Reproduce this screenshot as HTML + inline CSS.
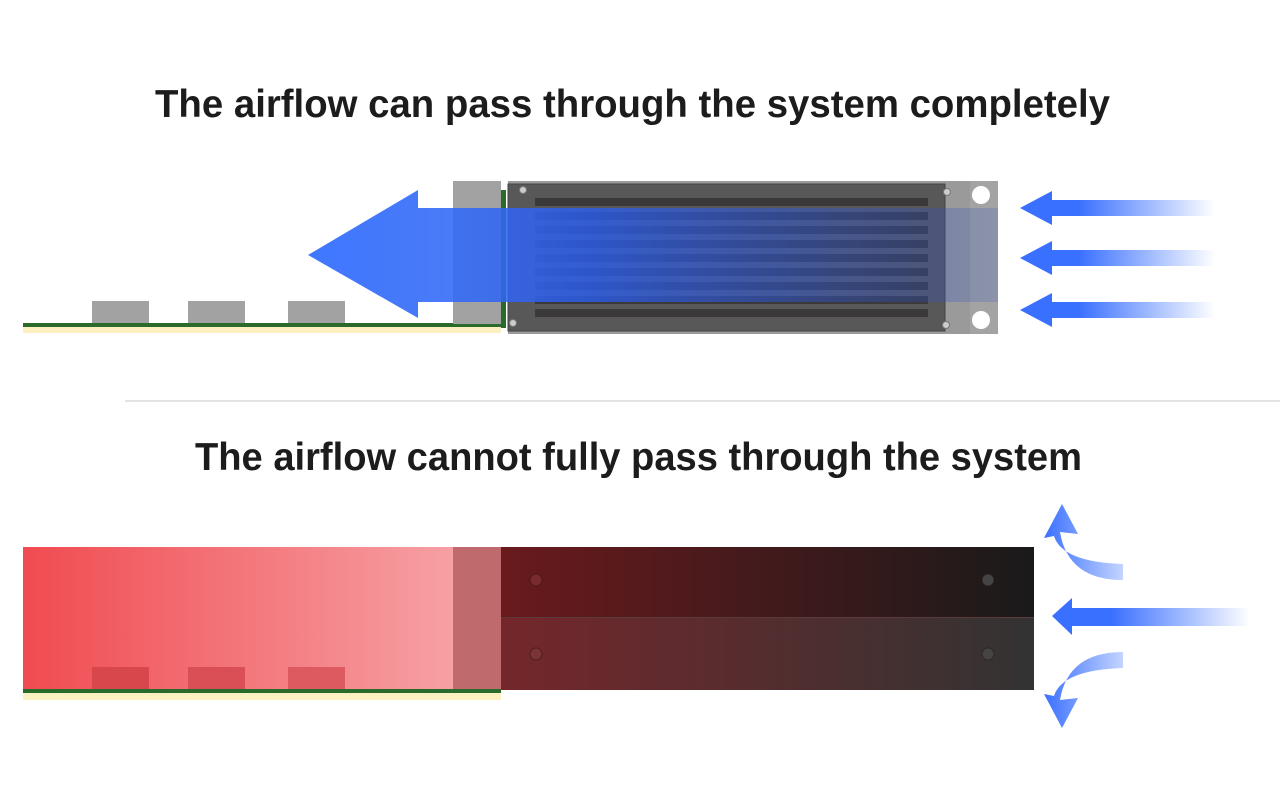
<!DOCTYPE html>
<html><head><meta charset="utf-8"><style>html,body{margin:0;padding:0;background:#fff}svg{display:block}</style></head>
<body>
<svg width="1280" height="801" viewBox="0 0 1280 801" xmlns="http://www.w3.org/2000/svg">
<defs>
<linearGradient id="fadeR" x1="0" x2="1" y1="0" y2="0"><stop offset="0" stop-color="#3a70ff"/><stop offset="0.3" stop-color="#3a70ff"/><stop offset="1" stop-color="#3a70ff" stop-opacity="0"/></linearGradient>
<linearGradient id="bigA" x1="0" x2="1"><stop offset="0" stop-color="#3f78ff"/><stop offset="0.4" stop-color="#2a5ef0" stop-opacity="0.8"/><stop offset="1" stop-color="#3050c0" stop-opacity="0.2"/></linearGradient>
<linearGradient id="redG" x1="0" x2="1"><stop offset="0" stop-color="#f04b50"/><stop offset="1" stop-color="#f6a0a4"/></linearGradient>
<linearGradient id="modT" x1="0" x2="1"><stop offset="0" stop-color="#6a1a1d"/><stop offset="1" stop-color="#1a1a1a"/></linearGradient>
<linearGradient id="modB" x1="0" x2="1"><stop offset="0" stop-color="#74272b"/><stop offset="1" stop-color="#333"/></linearGradient>
<linearGradient id="cu" x1="0" x2="1"><stop offset="0" stop-color="#3a70ff"/><stop offset="1" stop-color="#3a70ff" stop-opacity="0.3"/></linearGradient>
</defs>
<text x="155" y="117" font-family="Liberation Sans, sans-serif" font-weight="bold" font-size="39" fill="#1c1c1c" textLength="955" lengthAdjust="spacingAndGlyphs">The airflow can pass through the system completely</text>
<text x="195" y="470" font-family="Liberation Sans, sans-serif" font-weight="bold" font-size="39" fill="#1c1c1c" textLength="887" lengthAdjust="spacingAndGlyphs">The airflow cannot fully pass through the system</text>
<rect x="125" y="400" width="1155" height="2" fill="#e3e3e3"/>

<!-- TOP -->
<rect x="23" y="327" width="478" height="6" fill="#fdf0c0"/>
<rect x="23" y="323" width="478" height="4" fill="#2a6a2a"/>
<rect x="92" y="301" width="57" height="22" fill="#a1a2a1"/>
<rect x="188" y="301" width="57" height="22" fill="#a1a2a1"/>
<rect x="288" y="301" width="57" height="22" fill="#a1a2a1"/>
<rect x="453" y="181" width="48" height="143" fill="#a1a2a1"/>
<rect x="501" y="190" width="5" height="138" fill="#2a6a2a"/>
<rect x="940" y="181" width="58" height="153" fill="#a3a3a3"/>
<rect x="508" y="181" width="462" height="153" fill="#9a9a9a"/>
<rect x="508" y="184" width="437" height="147" fill="#595858" stroke="#444" stroke-width="1"/>
<g fill="#3b3939">
<rect x="535" y="198" width="393" height="8"/><rect x="535" y="212" width="393" height="8"/><rect x="535" y="226" width="393" height="8"/><rect x="535" y="240" width="393" height="8"/><rect x="535" y="254" width="393" height="8"/><rect x="535" y="268" width="393" height="8"/><rect x="535" y="282" width="393" height="8"/><rect x="535" y="296" width="393" height="8"/><rect x="535" y="309" width="393" height="8"/>
</g>
<g fill="#ccc" stroke="#777"><circle cx="523" cy="190" r="3.5"/><circle cx="513" cy="323" r="3.5"/><circle cx="947" cy="192" r="3.5"/><circle cx="946" cy="325" r="3.5"/></g>
<circle cx="981" cy="195" r="9" fill="#fff"/><circle cx="981" cy="320" r="9" fill="#fff"/>
<path d="M308 255 L418 190 L418 208 L998 208 L998 302 L418 302 L418 318 Z" fill="url(#bigA)"/>
<g fill="url(#fadeR)">
<path d="M1020 208 L1052 191 L1052 200 L1215 200 L1215 216 L1052 216 L1052 225 Z"/>
<path d="M1020 258 L1052 241 L1052 250 L1215 250 L1215 266 L1052 266 L1052 275 Z"/>
<path d="M1020 310 L1052 293 L1052 302 L1215 302 L1215 318 L1052 318 L1052 327 Z"/>
</g>

<!-- BOTTOM -->
<rect x="23" y="693" width="478" height="7" fill="#fdf0c0"/>
<rect x="23" y="689" width="478" height="4" fill="#2a6a2a"/>
<rect x="23" y="547" width="430" height="142" fill="url(#redG)"/>
<rect x="92" y="667" width="57" height="22" fill="#d8474c"/>
<rect x="188" y="667" width="57" height="22" fill="#da4f55"/>
<rect x="288" y="667" width="57" height="22" fill="#dc5a60"/>
<rect x="453" y="547" width="48" height="142" fill="#bf6a6c"/>
<rect x="501" y="547" width="533" height="71" fill="url(#modT)"/>
<rect x="501" y="618" width="533" height="72" fill="url(#modB)"/>
<rect x="501" y="617" width="533" height="1" fill="#5a3a3a"/>
<g stroke="#2a1010" stroke-width="1" stroke-opacity="0.5"><circle cx="536" cy="580" r="6" fill="#7a2a2c"/><circle cx="536" cy="654" r="6" fill="#7a3336"/><circle cx="988" cy="580" r="6" fill="#444"/><circle cx="988" cy="654" r="6" fill="#444"/></g>
<path d="M1052 616 L1072 598 L1072 608 L1250 608 L1250 626 L1072 626 L1072 635 Z" fill="url(#fadeR)"/>
<path d="M1123 564 L1123 580 Q1068 580 1060 532 L1078 534 L1062 504 L1044 538 L1054 536 Q1062 562 1123 564 Z" fill="url(#cu)"/>
<path d="M1123 668 L1123 652 Q1068 652 1060 700 L1078 698 L1062 728 L1044 694 L1054 696 Q1062 670 1123 668 Z" fill="url(#cu)"/>
</svg>
</body></html>
